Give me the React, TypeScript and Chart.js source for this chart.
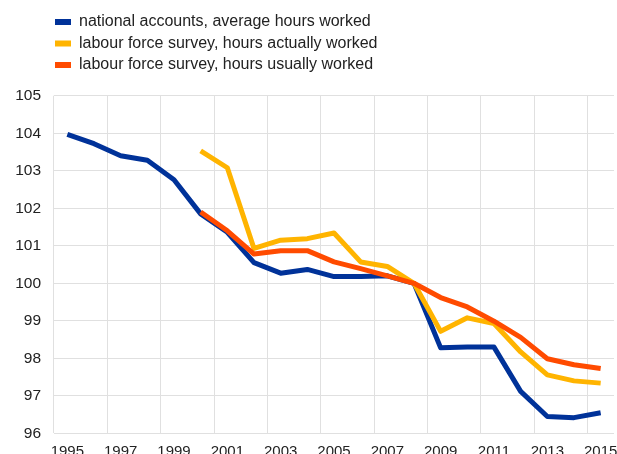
import React, { useEffect, useRef } from "react";
import { Chart, registerables } from "chart.js";

Chart.register(...registerables);

const years = [
  "1995", "1996", "1997", "1998", "1999", "2000", "2001", "2002", "2003", "2004",
  "2005", "2006", "2007", "2008", "2009", "2010", "2011", "2012", "2013", "2014", "2015",
];

const nationalAccounts = [
  103.97, 103.72, 103.4, 103.28, 102.76, 101.85, 101.36, 100.55, 100.27, 100.37,
  100.18, 100.18, 100.2, 100.0, 98.28, 98.3, 98.3, 97.12, 96.45, 96.42, 96.55,
];

const lfsActual = [
  null, null, null, null, null, 103.53, 103.08, 100.93, 101.15, 101.19,
  101.34, 100.57, 100.45, 100.0, 98.72, 99.08, 98.93, 98.17, 97.56, 97.4, 97.34,
];

const lfsUsual = [
  null, null, null, null, null, 101.9, 101.4, 100.78, 100.87, 100.87,
  100.57, 100.39, 100.2, 100.0, 99.62, 99.37, 98.99, 98.56, 97.99, 97.83, 97.73,
];

const seriesNames = [
  "national accounts, average hours worked",
  "labour force survey, hours actually worked",
  "labour force survey, hours usually worked",
];

const yMin = 96;
const yMax = 105;

const BLUE = "#003299";
const YELLOW = "#ffb400";
const ORANGE = "#ff4b00";
const GRID = "#e0e0e0";
const TEXT = "#222222";
const FONT = "'Liberation Sans', Arial, sans-serif";

const legendPlacer = {
  id: "legendPlacer",
  afterLayout(chart: any) {
    const l = chart.legend;
    if (!l) return;
    const pad = l.options.labels.padding;
    const h = l.bottom - l.top;
    l.left = 55 - pad;
    l.top = 22 - pad - 8;
    l.bottom = l.top + h;
  },
};

export default function App() {
  const ref = useRef<HTMLCanvasElement | null>(null);

  useEffect(() => {
    if (!ref.current) return;
    const chart = new Chart(ref.current, {
      type: "line",
      data: {
        labels: years,
        datasets: [
          {
            label: seriesNames[0],
            data: nationalAccounts,
            borderColor: BLUE,
            backgroundColor: BLUE,
            order: 2,
          },
          {
            label: seriesNames[1],
            data: lfsActual,
            borderColor: YELLOW,
            backgroundColor: YELLOW,
            order: 1,
          },
          {
            label: seriesNames[2],
            data: lfsUsual,
            borderColor: ORANGE,
            backgroundColor: ORANGE,
            order: 0,
          },
        ],
      },
      options: {
        responsive: false,
        animation: false,
        events: [],
        layout: { padding: { top: 21.2, left: 0, right: 16, bottom: 0.6 } },
        elements: {
          line: { borderWidth: 5, tension: 0, borderJoinStyle: "round", borderCapStyle: "butt" },
          point: { radius: 0, hoverRadius: 0 },
        },
        plugins: {
          tooltip: { enabled: false },
          legend: {
            position: "top",
            align: "start",
            labels: {
              boxWidth: 16,
              boxHeight: 6,
              padding: 5.5,
              color: TEXT,
              font: { family: FONT, size: 16 },
              sort: (a: any, b: any) => a.datasetIndex - b.datasetIndex,
              generateLabels: (c: any) =>
                (Chart.defaults.plugins.legend.labels.generateLabels as any)(c).map((it: any) => ({
                  ...it,
                  lineWidth: 0,
                  fillStyle: it.strokeStyle,
                })),
            },
          },
        },
        scales: {
          x: {
            type: "category",
            offset: true,
            grid: {
              offset: true,
              drawTicks: false,
              lineWidth: 1,
              color: (ctx: any) => (ctx.index % 2 === 0 ? GRID : "rgba(0,0,0,0)"),
            },
            border: { display: false },
            ticks: {
              autoSkip: false,
              maxRotation: 0,
              padding: 9,
              color: TEXT,
              font: { family: FONT, size: 15 },
              callback: (_v: any, i: number) => (i % 2 === 0 ? years[i] : ""),
            },
          },
          y: {
            min: yMin,
            max: yMax,
            grid: { drawTicks: false, color: GRID, lineWidth: 1 },
            border: { display: false },
            afterFit: (s: any) => {
              s.width = 54;
            },
            ticks: {
              stepSize: 1,
              padding: 13,
              color: TEXT,
              font: { family: FONT, size: 15.5 },
            },
          },
        },
      },
      plugins: [legendPlacer],
    });
    return () => chart.destroy();
  }, []);

  return (
    <div
      style={{
        position: "absolute",
        left: 0,
        top: 0,
        width: 617,
        height: 454,
        overflow: "hidden",
        background: "#ffffff",
      }}
    >
      <canvas ref={ref} width={630} height={470} style={{ display: "block" }} />
    </div>
  );
}
